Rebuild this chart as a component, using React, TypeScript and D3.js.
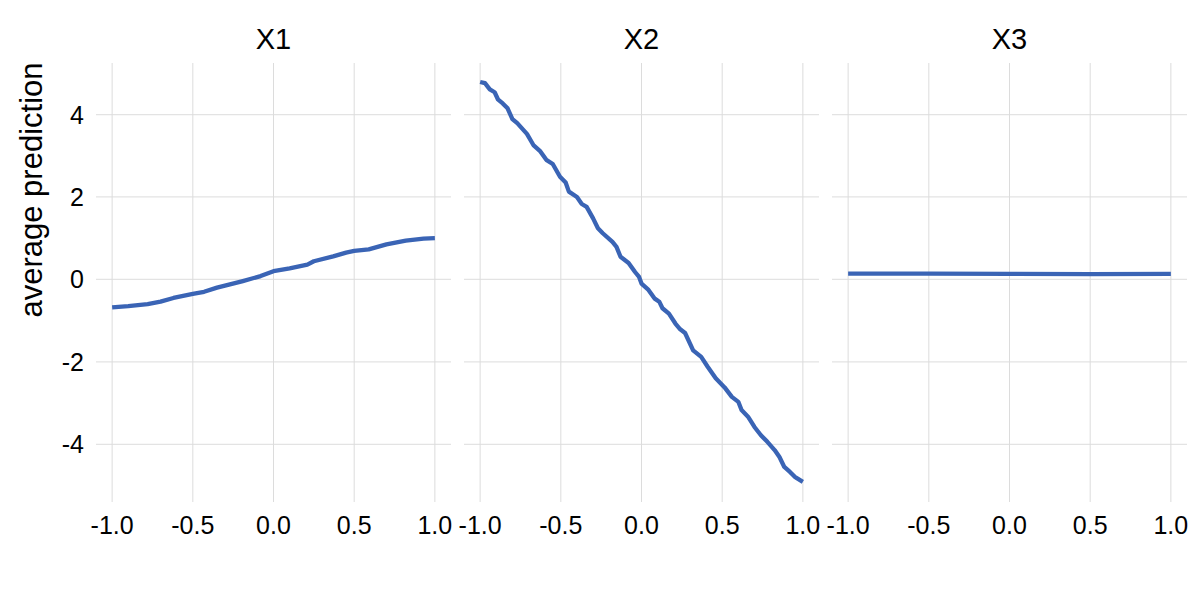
import React, { useEffect, useRef } from 'react';
import * as d3 from 'd3';

// partial dependence values
const x1X = [-1, -0.9, -0.78, -0.7, -0.62, -0.5, -0.43, -0.35, -0.27, -0.19, -0.08, 0, 0.1, 0.21, 0.25, 0.37, 0.45, 0.5, 0.59, 0.7, 0.82, 0.93, 1];
const x1Y = [-0.68, -0.65, -0.6, -0.54, -0.45, -0.35, -0.3, -0.2, -0.12, -0.04, 0.08, 0.2, 0.27, 0.36, 0.44, 0.56, 0.65, 0.69, 0.73, 0.85, 0.94, 0.99, 1.0];

const x2X = [-1, -0.97, -0.94, -0.91, -0.89, -0.86, -0.83, -0.8, -0.77, -0.71, -0.67, -0.63, -0.59, -0.55, -0.505, -0.47, -0.45, -0.4, -0.37, -0.34, -0.3, -0.27, -0.24, -0.18, -0.155, -0.13, -0.08, -0.04, -0.015, 0, 0.04, 0.08, 0.11, 0.13, 0.17, 0.21, 0.24, 0.27, 0.32, 0.37, 0.41, 0.46, 0.515, 0.56, 0.6, 0.62, 0.66, 0.7, 0.74, 0.78, 0.825, 0.855, 0.885, 0.92, 0.95, 1];
const x2Y = [4.79, 4.76, 4.61, 4.54, 4.37, 4.27, 4.15, 3.89, 3.79, 3.53, 3.26, 3.12, 2.9, 2.8, 2.49, 2.35, 2.13, 2.0, 1.83, 1.76, 1.48, 1.24, 1.12, 0.91, 0.79, 0.55, 0.4, 0.18, 0.06, -0.1, -0.24, -0.46, -0.54, -0.7, -0.83, -1.07, -1.21, -1.3, -1.72, -1.88, -2.12, -2.4, -2.62, -2.85, -2.97, -3.17, -3.33, -3.58, -3.78, -3.94, -4.14, -4.31, -4.55, -4.67, -4.79, -4.91];

const x3X = [-1, -0.5, 0, 0.5, 1];
const x3Y = [0.14, 0.14, 0.135, 0.13, 0.135];

const panelNames = ['X1', 'X2', 'X3'];
const xTicks = [-1, -0.5, 0, 0.5, 1];
const yTicks = [-4, -2, 0, 2, 4];

const App = () => {
  const ref = useRef<SVGSVGElement>(null);

  useEffect(() => {
    const svg = d3.select(ref.current);
    svg.selectAll('*').remove();

    const font = 'Liberation Sans, Arial, sans-serif';
    const panelW = 355;
    const lefts = [96, 464, 832];
    const top = 63;
    const bottom = 502;

    const y = d3.scaleLinear().domain([-5.4, 5.25]).range([bottom, top]);

    const series = [
      x1X.map((v, i) => [v, x1Y[i]]),
      x2X.map((v, i) => [v, x2Y[i]]),
      x3X.map((v, i) => [v, x3Y[i]]),
    ] as [number, number][][];

    lefts.forEach((left, p) => {
      const x = d3.scaleLinear().domain([-1.1, 1.1]).range([left, left + panelW]);
      const g = svg.append('g');

      // grid
      g.selectAll('.hg')
        .data(yTicks)
        .enter()
        .append('line')
        .attr('x1', left)
        .attr('x2', left + panelW)
        .attr('y1', d => y(d))
        .attr('y2', d => y(d))
        .attr('stroke', '#e3e3e3')
        .attr('stroke-width', 1.2);

      g.selectAll('.vg')
        .data(xTicks)
        .enter()
        .append('line')
        .attr('x1', d => x(d))
        .attr('x2', d => x(d))
        .attr('y1', top)
        .attr('y2', bottom)
        .attr('stroke', '#dcdcdc')
        .attr('stroke-width', 1);

      // x tick labels
      g.selectAll('.xt')
        .data(xTicks)
        .enter()
        .append('text')
        .attr('x', d => x(d))
        .attr('y', 534)
        .attr('text-anchor', 'middle')
        .style('font-family', font)
        .style('font-size', '25px')
        .attr('fill', '#000')
        .text(d => d3.format('.1f')(d).replace('−', '-'));

      // strip title
      g.append('text')
        .attr('x', left + panelW / 2)
        .attr('y', 49)
        .attr('text-anchor', 'middle')
        .style('font-family', font)
        .style('font-size', '29px')
        .attr('fill', '#000')
        .text(panelNames[p]);

      const line = d3.line<[number, number]>()
        .x(d => x(d[0]))
        .y(d => y(d[1]));

      g.append('path')
        .datum(series[p])
        .attr('fill', 'none')
        .attr('stroke', '#3a64b5')
        .attr('stroke-width', 4.3)
        .attr('stroke-linejoin', 'round')
        .attr('d', line);
    });

    // y tick labels (first panel only)
    svg.selectAll('.yt')
      .data(yTicks)
      .enter()
      .append('text')
      .attr('x', 84)
      .attr('y', d => y(d))
      .attr('dy', '0.36em')
      .attr('text-anchor', 'end')
      .style('font-family', font)
      .style('font-size', '25px')
      .attr('fill', '#000')
      .text(d => String(d));

    svg.append('text')
      .attr('transform', 'translate(42,190) rotate(-90)')
      .attr('text-anchor', 'middle')
      .style('font-family', font)
      .style('font-size', '31px')
      .attr('fill', '#000')
      .text('average prediction');
  }, []);

  return (
    <svg
      ref={ref}
      width={1200}
      height={600}
      style={{ position: 'absolute', left: 0, top: 0, background: '#fff' }}
    />
  );
};

export default App;
